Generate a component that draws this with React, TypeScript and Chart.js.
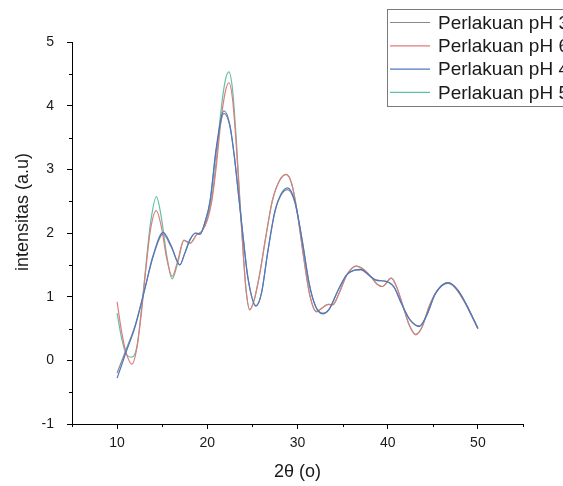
import React, { useEffect, useRef } from 'react';
import { Chart, registerables } from 'chart.js';

Chart.register(...registerables);

const FONT = '"Liberation Sans", Arial, Helvetica, sans-serif';

// Tick values
const X_MAJOR = [10, 20, 30, 40, 50];
const X_MINOR = [5, 15, 25, 35, 45, 55];
const Y_MINOR = [-0.5, 0.5, 1.5, 2.5, 3.5, 4.5];

const LABELS = ['Perlakuan pH 3', 'Perlakuan pH 6', 'Perlakuan pH 4', 'Perlakuan pH 5'];
const COLORS = ['#8a8a8a', '#e07b7b', '#4f78c0', '#62c0a6'];

// pH 4 (blue)
const X_PH4 = [10, 11, 12, 13, 14, 15.1, 16, 16.95, 17.5, 18.1, 18.7, 19.2, 19.7, 20.3, 21, 21.85, 22.5, 23, 23.5, 24, 24.5, 25.4, 26, 26.7, 27.5, 28.2, 28.9, 29.7, 30.5, 31.3, 32, 32.8, 33.5, 34.5, 35.5, 37, 38, 38.7, 39.8, 40.7, 41.5, 42.5, 43.5, 44.3, 45.3, 46.7, 47.8, 49, 50];
const Y_PH4 = [-0.28, 0.13, 0.53, 1.08, 1.65, 2.01, 1.8, 1.5, 1.68, 1.9, 2.0, 1.98, 2.15, 2.5, 3.35, 3.92, 3.7, 3.2, 2.55, 1.9, 1.3, 0.85, 1.05, 1.7, 2.35, 2.62, 2.71, 2.5, 1.9, 1.2, 0.85, 0.73, 0.8, 1.1, 1.35, 1.43, 1.33, 1.26, 1.24, 1.15, 0.9, 0.63, 0.53, 0.7, 1.05, 1.22, 1.1, 0.8, 0.5];

// pH 3 (grey)
const X_PH3 = X_PH4;
const Y_PH3 = [-0.2, 0.17, 0.55, 1.08, 1.63, 1.98, 1.78, 1.5, 1.68, 1.9, 2.0, 1.98, 2.15, 2.48, 3.3, 3.88, 3.68, 3.2, 2.55, 1.9, 1.3, 0.86, 1.05, 1.7, 2.33, 2.6, 2.68, 2.48, 1.9, 1.2, 0.85, 0.74, 0.8, 1.1, 1.35, 1.42, 1.33, 1.26, 1.24, 1.15, 0.9, 0.63, 0.54, 0.7, 1.05, 1.21, 1.1, 0.8, 0.5];

// pH 6 (red)
const X_PH6 = [10, 10.5, 11, 11.65, 12.2, 12.7, 13.2, 13.7, 14.35, 14.9, 15.5, 16.1, 16.7, 17.4, 18.1, 18.8, 19.4, 20, 20.5, 21, 21.5, 22, 22.4, 22.8, 23.2, 23.6, 24, 24.3, 24.7, 25.2, 25.8, 26.5, 27.2, 28, 28.75, 29.4, 30, 30.7, 31.4, 32.1, 32.8, 33.4, 33.9, 34.6, 35.5, 36.5, 37.3, 38.1, 38.8, 39.4, 40.4, 41, 41.7, 42.4, 43.1, 43.8, 44.6, 45.5, 46.7, 47.6, 48.5, 49.3, 50];
const Y_PH6 = [0.92, 0.45, 0.12, -0.06, 0.2, 0.75, 1.45, 2.05, 2.35, 2.1, 1.6, 1.32, 1.55, 1.89, 1.84, 1.97, 2.03, 2.2, 2.5, 3.05, 3.75, 4.22, 4.36, 4.1, 3.4, 2.5, 1.65, 1.1, 0.79, 0.95, 1.35, 1.95, 2.5, 2.82, 2.92, 2.75, 2.3, 1.6, 1.0, 0.76, 0.83, 0.88, 0.87, 1.05, 1.35, 1.48, 1.43, 1.32, 1.2, 1.16, 1.29, 1.15, 0.85, 0.55, 0.4, 0.52, 0.85, 1.1, 1.22, 1.12, 0.92, 0.7, 0.5];

// pH 5 (green)
const X_PH5 = X_PH6;
const Y_PH5 = [0.74, 0.35, 0.1, 0.05, 0.22, 0.8, 1.5, 2.15, 2.57, 2.25, 1.65, 1.28, 1.52, 1.88, 1.84, 1.97, 2.03, 2.22, 2.55, 3.15, 3.9, 4.4, 4.53, 4.25, 3.5, 2.55, 1.65, 1.1, 0.8, 0.95, 1.35, 1.95, 2.5, 2.82, 2.92, 2.75, 2.3, 1.6, 1.0, 0.77, 0.83, 0.88, 0.87, 1.05, 1.35, 1.48, 1.43, 1.32, 1.2, 1.16, 1.29, 1.15, 0.85, 0.55, 0.41, 0.52, 0.85, 1.1, 1.22, 1.12, 0.92, 0.7, 0.5];

const SERIES_X = [X_PH3, X_PH6, X_PH4, X_PH5];
const SERIES_Y = [Y_PH3, Y_PH6, Y_PH4, Y_PH5];
const DRAW_ORDER = [1, 2, 0, 3];

const minorTicksPlugin = {
  id: 'minorTicks',
  afterDraw(chart: any) {
    const { ctx, chartArea } = chart;
    const xs = chart.scales.x;
    const ys = chart.scales.y;
    ctx.save();
    ctx.strokeStyle = '#000';
    ctx.lineWidth = 1;
    ctx.beginPath();
    X_MINOR.forEach((v) => {
      const px = Math.round(xs.getPixelForValue(v)) + 0.5;
      ctx.moveTo(px, chartArea.bottom);
      ctx.lineTo(px, chartArea.bottom + 3);
    });
    Y_MINOR.forEach((v) => {
      const py = Math.round(ys.getPixelForValue(v)) + 0.5;
      ctx.moveTo(chartArea.left, py);
      ctx.lineTo(chartArea.left - 3, py);
    });
    ctx.stroke();
    ctx.restore();
  },
};

const yTitlePlugin = {
  id: 'yTitle',
  afterDraw(chart: any) {
    const { ctx } = chart;
    ctx.save();
    ctx.translate(23, 212);
    ctx.rotate(-Math.PI / 2);
    ctx.font = `18px ${FONT}`;
    ctx.fillStyle = '#1a1a1a';
    ctx.textAlign = 'center';
    ctx.textBaseline = 'middle';
    ctx.fillText('intensitas (a.u)', 0, 0);
    ctx.restore();
  },
};

const boxLegendPlugin = {
  id: 'boxLegend',
  afterDraw(chart: any) {
    const { ctx } = chart;
    ctx.save();
    ctx.fillStyle = '#fff';
    ctx.fillRect(387.5, 9.5, 220, 97);
    ctx.strokeStyle = '#7a7a7a';
    ctx.lineWidth = 1;
    ctx.strokeRect(387.5, 9.5, 220, 97);
    chart.data.datasets.forEach((ds: any, i: number) => {
      const y = 22.5 + i * 23.3;
      ctx.strokeStyle = ds.borderColor;
      ctx.lineWidth = 1.2;
      ctx.beginPath();
      ctx.moveTo(390, y);
      ctx.lineTo(430, y);
      ctx.stroke();
      ctx.fillStyle = '#1a1a1a';
      ctx.font = `19px ${FONT}`;
      ctx.textAlign = 'left';
      ctx.textBaseline = 'middle';
      ctx.fillText(ds.label, 438, y + 1);
    });
    ctx.restore();
  },
};

export default function App() {
  const ref = useRef<HTMLCanvasElement>(null);

  useEffect(() => {
    if (!ref.current) return;
    const datasets = LABELS.map((label, i) => ({
      label,
      data: SERIES_X[i].map((x, j) => ({ x, y: SERIES_Y[i][j] })),
      borderColor: COLORS[i],
      backgroundColor: COLORS[i],
      borderWidth: 1.2,
      pointRadius: 0,
      fill: false,
      cubicInterpolationMode: 'monotone' as const,
      order: DRAW_ORDER[i],
    }));

    const chart = new Chart(ref.current, {
      type: 'line',
      data: { datasets },
      options: {
        animation: false,
        responsive: false,
        devicePixelRatio: 1,
        layout: { padding: { left: 0, right: 40, top: 42, bottom: 0 } },
        plugins: {
          legend: { display: false },
          tooltip: { enabled: false },
        },
        scales: {
          x: {
            type: 'linear',
            min: 5,
            max: 55,
            afterBuildTicks: (s: any) => {
              s.ticks = X_MAJOR.map((v) => ({ value: v }));
            },
            afterFit: (s: any) => {
              s.height = 62;
            },
            grid: {
              display: true,
              drawOnChartArea: false,
              drawTicks: true,
              tickLength: 5,
              tickColor: '#000',
              tickWidth: 1,
            },
            border: { display: true, color: '#000', width: 1 },
            ticks: {
              color: '#1a1a1a',
              font: { family: FONT, size: 14 },
              padding: 6,
              maxRotation: 0,
            },
            title: {
              display: true,
              text: '2θ (o)',
              color: '#1a1a1a',
              font: { family: FONT, size: 18 },
              padding: { top: 0, bottom: 3 },
            },
          },
          y: {
            type: 'linear',
            min: -1,
            max: 5,
            afterFit: (s: any) => {
              s.width = 72;
            },
            grid: {
              display: true,
              drawOnChartArea: false,
              drawTicks: true,
              tickLength: 5,
              tickColor: '#000',
              tickWidth: 1,
            },
            border: { display: true, color: '#000', width: 1 },
            ticks: {
              stepSize: 1,
              color: '#1a1a1a',
              font: { family: FONT, size: 14 },
              padding: 13,
            },
          },
        },
      },
      plugins: [minorTicksPlugin, yTitlePlugin, boxLegendPlugin],
    });

    return () => chart.destroy();
  }, []);

  return (
    <div style={{ position: 'fixed', left: 0, top: 0, width: 563, height: 486, background: '#fff' }}>
      <canvas ref={ref} width={563} height={486} style={{ display: 'block' }} />
    </div>
  );
}
